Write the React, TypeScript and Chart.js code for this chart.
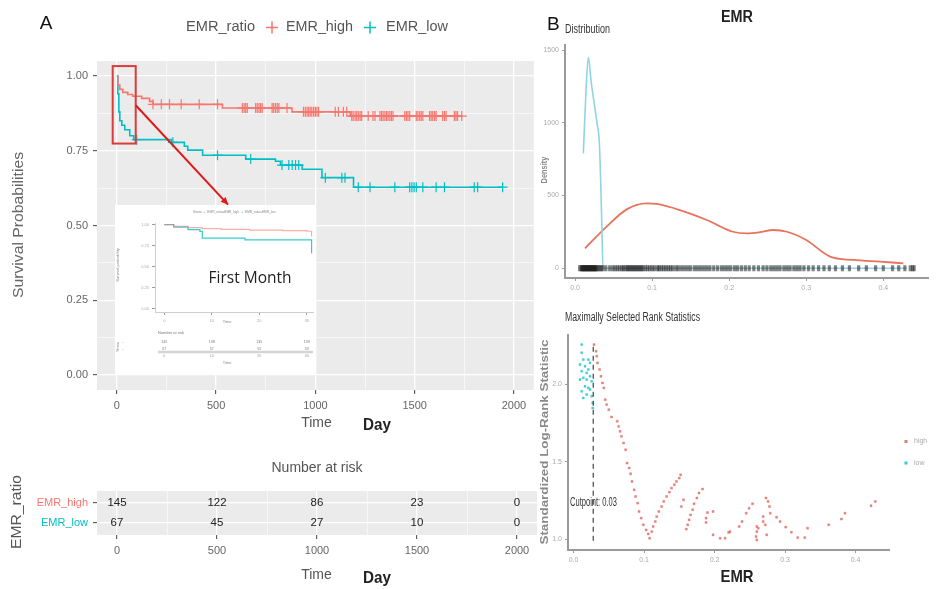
import React, { useEffect, useRef } from "react";
import { Chart, registerables } from "chart.js";

Chart.register(...registerables);

// ======================= DATA =======================
// Panel A – Kaplan-Meier curves (time in days -> survival probability)
const HIGH_TIME = [0, 5, 15, 30, 55, 80, 125, 165, 182, 532, 882, 1175, 1737];
const HIGH_SURV = [1.0, 0.97, 0.955, 0.945, 0.938, 0.932, 0.925, 0.915, 0.905, 0.893, 0.88, 0.866, 0.866];
const HIGH_CENSOR = [
  182, 224, 265, 324, 415, 507, 632, 641, 649, 657, 699, 707, 716, 724, 732, 782, 790, 799, 808, 816, 857,
  940, 949, 958, 966, 974, 982, 991, 1000, 1008, 1016, 1100, 1116, 1141, 1158, 1183, 1190, 1200, 1208, 1216,
  1225, 1233, 1266, 1290, 1300, 1325, 1333, 1341, 1350, 1358, 1366, 1375, 1383, 1391, 1450, 1458, 1466, 1475,
  1508, 1516, 1525, 1533, 1541, 1575, 1583, 1591, 1600, 1608, 1641, 1650, 1658, 1700, 1708, 1716, 1737,
];
const LOW_TIME = [0, 5, 10, 15, 25, 40, 65, 85, 275, 340, 357, 432, 649, 799, 824, 933, 1033, 1192, 1943];
const LOW_SURV = [1.0, 0.94, 0.88, 0.85, 0.835, 0.82, 0.8, 0.787, 0.778, 0.765, 0.752, 0.735, 0.722, 0.715, 0.702, 0.688, 0.66, 0.628, 0.628];
const LOW_CENSOR = [
  100, 282, 507, 674, 832, 866, 883, 900, 916, 1050, 1133, 1149, 1216, 1275, 1400, 1475, 1486, 1497, 1508,
  1541, 1608, 1650, 1800, 1817, 1943,
];
const GROUPS = ["EMR_high", "EMR_low"];
const KM_X_GRID = [0, 250, 500, 750, 1000, 1250, 1500, 1750, 2000];
const KM_Y_GRID = [0, 0.125, 0.25, 0.375, 0.5, 0.625, 0.75, 0.875, 1.0];

// Number at risk table
const RISK_TIMES = [0, 500, 1000, 1500, 2000];
const RISK_HIGH = [145, 122, 86, 23, 0];
const RISK_LOW = [67, 45, 27, 10, 0];

// Inset – first month
const INSET_HIGH_T = [0, 2, 5, 8, 12, 18, 25, 30, 31];
const INSET_HIGH_S = [1.0, 0.98, 0.965, 0.952, 0.945, 0.935, 0.928, 0.922, 0.86];
const INSET_LOW_T = [0, 2, 5, 7.5, 8, 17, 31];
const INSET_LOW_S = [1.0, 0.97, 0.94, 0.92, 0.84, 0.82, 0.66];
const INSET_X_TICKS = [0, 10, 20, 30];
const INSET_Y_TICKS = [0, 0.25, 0.5, 0.75, 1.0];
const INSET_RISK_HIGH = [145, 138, 135, 133];
const INSET_RISK_LOW = [67, 57, 55, 53];

// Panel B – density of EMR
const DENS_LOW_X = [0.0108, 0.0145, 0.0173, 0.021, 0.025, 0.0285, 0.0316, 0.0335, 0.035, 0.0363, 0.43];
const DENS_LOW_Y = [790, 1250, 1450, 1280, 1130, 1000, 860, 560, 250, 0, 0];
const DENS_HIGH_X = [0.013, 0.041, 0.067, 0.093, 0.106, 0.136, 0.171, 0.205, 0.223, 0.24, 0.257, 0.275, 0.3, 0.331, 0.361, 0.396, 0.426];
const DENS_HIGH_Y = [137, 286, 405, 446, 442, 400, 332, 251, 240, 248, 263, 251, 194, 80, 57, 45, 34];
const RUG_EMR = [
  0.006, 0.008, 0.009, 0.01, 0.011, 0.012, 0.013, 0.014, 0.015, 0.016, 0.017, 0.018, 0.019, 0.02, 0.021, 0.022,
  0.023, 0.024, 0.025, 0.026, 0.027, 0.028, 0.03, 0.032, 0.034, 0.036, 0.04, 0.045, 0.049, 0.052, 0.055, 0.058,
  0.061, 0.063, 0.066, 0.068, 0.07, 0.072, 0.074, 0.076, 0.078, 0.08, 0.082, 0.084, 0.086, 0.088, 0.091, 0.094,
  0.097, 0.1, 0.103, 0.107, 0.109, 0.112, 0.115, 0.118, 0.121, 0.124, 0.127, 0.131, 0.134, 0.138, 0.142, 0.146,
  0.15, 0.155, 0.159, 0.163, 0.167, 0.171, 0.175, 0.18, 0.185, 0.19, 0.194, 0.198, 0.202, 0.207, 0.211, 0.216,
  0.221, 0.226, 0.232, 0.238, 0.244, 0.249, 0.254, 0.258, 0.262, 0.266, 0.271, 0.275, 0.279, 0.284, 0.288,
  0.292, 0.297, 0.303, 0.309, 0.316, 0.323, 0.33, 0.338, 0.347, 0.356, 0.368, 0.378, 0.39, 0.4, 0.412, 0.42,
  0.428, 0.435, 0.438, 0.44,
];
const DENS_X_TICKS = [0, 0.1, 0.2, 0.3, 0.4];
const DENS_Y_TICKS = [0, 500, 1000, 1500];

// Panel B – maximally selected rank statistics
const MS_LOW_X = [0.0116, 0.0116, 0.0139, 0.0092, 0.0163, 0.0116, 0.0187, 0.021, 0.0234, 0.0139, 0.0092, 0.0187, 0.0258, 0.0163, 0.021, 0.0116, 0.0139, 0.0187, 0.0258, 0.0234, 0.0272, 0.0272, 0.021, 0.0234];
const MS_LOW_Y = [2.258, 2.205, 2.161, 2.129, 2.118, 2.086, 2.075, 2.161, 2.14, 2.043, 2.032, 2.032, 2.021, 1.988, 1.978, 1.956, 1.913, 1.935, 1.924, 1.967, 1.881, 1.848, 2.097, 2.053];
const MS_HIGH_X = [
  0.029, 0.032, 0.033, 0.034, 0.037, 0.039, 0.041, 0.043, 0.045, 0.047, 0.05, 0.054, 0.062, 0.064, 0.066, 0.068,
  0.071, 0.074, 0.076, 0.079, 0.081, 0.083, 0.086, 0.088, 0.091, 0.093, 0.096, 0.099, 0.103, 0.106, 0.108, 0.111,
  0.113, 0.116, 0.118, 0.121, 0.125, 0.128, 0.132, 0.136, 0.139, 0.143, 0.146, 0.15, 0.152, 0.153, 0.156, 0.16,
  0.162, 0.164, 0.166, 0.169, 0.171, 0.175, 0.178, 0.183, 0.188, 0.188, 0.19, 0.198, 0.198, 0.208, 0.215, 0.22,
  0.222, 0.235, 0.239, 0.245, 0.249, 0.254, 0.26, 0.26, 0.259, 0.26, 0.262, 0.269, 0.269, 0.272, 0.274, 0.273,
  0.276, 0.278, 0.279, 0.288, 0.293, 0.301, 0.309, 0.318, 0.328, 0.332, 0.362, 0.38, 0.385, 0.422, 0.428,
];
const MS_HIGH_Y = [
  2.258, 2.215, 2.183, 2.14, 2.097, 2.053, 2.01, 1.978, 1.902, 1.87, 1.837, 1.79, 1.762, 1.729, 1.697, 1.665,
  1.622, 1.578, 1.492, 1.46, 1.423, 1.373, 1.319, 1.276, 1.233, 1.179, 1.136, 1.093, 1.06, 1.034, 1.006, 1.049,
  1.082, 1.114, 1.146, 1.179, 1.211, 1.244, 1.276, 1.304, 1.33, 1.352, 1.373, 1.395, 1.416, 1.211, 1.255, 1.065,
  1.093, 1.125, 1.157, 1.19, 1.229, 1.266, 1.298, 1.324, 1.136, 1.108, 1.172, 1.179, 1.028, 1.006, 1.006, 1.043,
  1.049, 1.082, 1.114, 1.168, 1.2, 1.229, 1.082, 1.049, 1.017, 0.995, 1.071, 1.146, 1.114, 1.093, 1.028, 1.266,
  1.244, 1.211, 1.168, 1.142, 1.114, 1.078, 1.045, 1.01, 1.01, 1.071, 1.093, 1.13, 1.168, 1.216, 1.244,
];
const CUTPOINT = 0.028;
const MS_X_TICKS = [0, 0.1, 0.2, 0.3, 0.4];
const MS_Y_TICKS = [1.0, 1.5, 2.0];

// ======================= STYLE / HELPERS =======================
const FONT = '"Liberation Sans", Arial, sans-serif';
const RED = "#F8766D";
const CYAN = "#00BFC4";

type TxtOpt = {
  size?: number;
  bold?: boolean;
  color?: string;
  align?: CanvasTextAlign;
  family?: string;
  width?: number;
  rot?: number;
};

function txt(ctx: CanvasRenderingContext2D, s: string, x: number, y: number, o: TxtOpt = {}) {
  ctx.save();
  ctx.font = `${o.bold ? "bold " : ""}${o.size ?? 12}px ${o.family ?? FONT}`;
  ctx.fillStyle = o.color ?? "#333";
  ctx.textBaseline = "middle";
  ctx.textAlign = o.align ?? "center";
  ctx.translate(x, y);
  if (o.rot) ctx.rotate(o.rot);
  if (o.width) {
    const w = ctx.measureText(s).width;
    if (w > 0) ctx.scale(o.width / w, 1);
  }
  ctx.fillText(s, 0, 0);
  ctx.restore();
}

function stepAt(times: number[], surv: number[], t: number) {
  let s = surv[0];
  for (let i = 0; i < times.length; i++) if (times[i] <= t) s = surv[i];
  return s;
}

const pts = (xs: number[], ys: number[]) => xs.map((x, i) => ({ x, y: ys[i] }));
const majorX = (v: number) => Math.abs(v % 500) < 1e-9;
const majorY = (v: number) => Math.abs(v * 4 - Math.round(v * 4)) < 1e-9;

const panelBg = (color: string) => ({
  id: "panelBg",
  beforeDraw(chart: any) {
    const { ctx, chartArea: a } = chart;
    ctx.save();
    ctx.fillStyle = color;
    ctx.fillRect(a.left, a.top, a.right - a.left, a.bottom - a.top);
    ctx.restore();
  },
});

function ggX(height: number) {
  return {
    type: "linear",
    min: -100,
    max: 2100,
    afterBuildTicks: (s: any) => {
      s.ticks = KM_X_GRID.map((v) => ({ value: v }));
    },
    afterFit: (s: any) => {
      s.height = height;
    },
    border: { display: false },
    grid: {
      color: "#FFFFFF",
      lineWidth: (c: any) => (c.tick && majorX(c.tick.value) ? 1.3 : 0.6),
      tickColor: (c: any) => (c.tick && majorX(c.tick.value) ? "#444" : "rgba(0,0,0,0)"),
      tickLength: 4,
      tickWidth: 1,
    },
    ticks: {
      autoSkip: false,
      maxRotation: 0,
      minRotation: 0,
      padding: 5,
      color: "#666",
      font: { family: FONT, size: 11 },
      callback: (v: any) => (majorX(Number(v)) ? String(v) : ""),
    },
  };
}

function classicAxis(min: number, max: number, ticks: number[], size: number, isX: boolean, fmt: (v: number) => string, fontSize = 7) {
  return {
    type: "linear",
    min,
    max,
    afterBuildTicks: (s: any) => {
      s.ticks = ticks.map((v) => ({ value: v }));
    },
    afterFit: (s: any) => {
      if (isX) s.height = size;
      else s.width = size;
    },
    border: { display: true, color: "#9a9a9a", width: 2 },
    grid: { display: true, drawOnChartArea: false, tickLength: 3, tickColor: "#9a9a9a", tickWidth: 1 },
    ticks: {
      autoSkip: false,
      maxRotation: 0,
      minRotation: 0,
      padding: 3,
      color: "#aaaaaa",
      font: { family: FONT, size: fontSize },
      callback: (v: any) => fmt(Number(v)),
    },
  };
}

// ======================= CHART CONFIGS =======================
function cfgKM(): any {
  return {
    type: "line",
    data: {
      datasets: [
        { data: pts(HIGH_TIME, HIGH_SURV), stepped: "before", borderColor: RED, borderWidth: 1.6, pointRadius: 0 },
        { data: pts(LOW_TIME, LOW_SURV), stepped: "before", borderColor: CYAN, borderWidth: 1.6, pointRadius: 0 },
        {
          data: HIGH_CENSOR.map((t) => ({ x: t, y: stepAt(HIGH_TIME, HIGH_SURV, t) })),
          showLine: false,
          pointStyle: "cross",
          pointRadius: 5,
          pointBorderColor: RED,
          pointBackgroundColor: RED,
          pointBorderWidth: 1.2,
        },
        {
          data: LOW_CENSOR.map((t) => ({ x: t, y: stepAt(LOW_TIME, LOW_SURV, t) })),
          showLine: false,
          pointStyle: "cross",
          pointRadius: 5,
          pointBorderColor: CYAN,
          pointBackgroundColor: CYAN,
          pointBorderWidth: 1.2,
        },
      ],
    },
    options: {
      animation: false,
      responsive: false,
      layout: { padding: { left: 0, right: 3, top: 61, bottom: 5 } },
      plugins: { legend: { display: false }, tooltip: { enabled: false } },
      scales: {
        x: ggX(45),
        y: {
          type: "linear",
          min: -0.05,
          max: 1.05,
          afterBuildTicks: (s: any) => {
            s.ticks = KM_Y_GRID.map((v) => ({ value: v }));
          },
          afterFit: (s: any) => {
            s.width = 97;
          },
          border: { display: false },
          grid: {
            color: "#FFFFFF",
            lineWidth: (c: any) => (c.tick && majorY(c.tick.value) ? 1.3 : 0.6),
            tickColor: (c: any) => (c.tick && majorY(c.tick.value) ? "#444" : "rgba(0,0,0,0)"),
            tickLength: 4,
            tickWidth: 1,
          },
          ticks: {
            autoSkip: false,
            padding: 5,
            color: "#666",
            font: { family: FONT, size: 11 },
            callback: (v: any) => (majorY(Number(v)) ? Number(v).toFixed(2) : ""),
          },
        },
      },
    },
    plugins: [
      panelBg("#EBEBEB"),
      {
        id: "kmDecor",
        afterDatasetsDraw(chart: any) {
          const { ctx } = chart;
          const xs = chart.scales.x;
          const ys = chart.scales.y;
          const x1 = xs.getPixelForValue(-21);
          const x2 = xs.getPixelForValue(95);
          const y1 = ys.getPixelForValue(1.033);
          const y2 = ys.getPixelForValue(0.774);
          ctx.save();
          ctx.strokeStyle = "#DA3B3B";
          ctx.lineWidth = 2;
          ctx.strokeRect(x1, y1, x2 - x1, y2 - y1);
          const ax = xs.getPixelForValue(95);
          const ay = ys.getPixelForValue(0.902);
          const bx = xs.getPixelForValue(560);
          const by = ys.getPixelForValue(0.57);
          ctx.strokeStyle = "#E01818";
          ctx.fillStyle = "#E01818";
          ctx.lineWidth = 2;
          ctx.beginPath();
          ctx.moveTo(ax, ay);
          ctx.lineTo(bx, by);
          ctx.stroke();
          const ang = Math.atan2(by - ay, bx - ax);
          const L = 8;
          ctx.beginPath();
          ctx.moveTo(bx, by);
          ctx.lineTo(bx - L * Math.cos(ang - 0.45), by - L * Math.sin(ang - 0.45));
          ctx.lineTo(bx - L * Math.cos(ang + 0.45), by - L * Math.sin(ang + 0.45));
          ctx.closePath();
          ctx.fill();
          ctx.restore();
        },
        afterDraw(chart: any) {
          const { ctx } = chart;
          txt(ctx, "A", 46, 24, { size: 19, color: "#111" });
          txt(ctx, "EMR_ratio", 186, 27.5, { size: 14, color: "#555", align: "left", width: 69 });
          const plus = (x: number, c: string) => {
            ctx.save();
            ctx.strokeStyle = c;
            ctx.lineWidth = 1.5;
            ctx.beginPath();
            ctx.moveTo(x - 6, 27.5);
            ctx.lineTo(x + 6, 27.5);
            ctx.moveTo(x, 21.5);
            ctx.lineTo(x, 33.5);
            ctx.stroke();
            ctx.restore();
          };
          plus(272, RED);
          txt(ctx, "EMR_high", 286, 27.5, { size: 14, color: "#555", align: "left", width: 67 });
          plus(370, CYAN);
          txt(ctx, "EMR_low", 386, 27.5, { size: 14, color: "#555", align: "left", width: 62 });
          txt(ctx, "Survival Probabilities", 19, 225, { size: 14, color: "#666", rot: -Math.PI / 2, width: 146 });
          txt(ctx, "Time", 316.5, 423, { size: 14, color: "#555" });
          txt(ctx, "Day", 377, 425, { size: 17, bold: true, color: "#222", width: 28 });
        },
      },
    ],
  };
}

function cfgRisk(): any {
  return {
    type: "line",
    data: {
      datasets: [
        { data: RISK_TIMES.map((t) => ({ x: t, y: 1 })), showLine: false, pointRadius: 0 },
        { data: RISK_TIMES.map((t) => ({ x: t, y: 2 })), showLine: false, pointRadius: 0 },
      ],
    },
    options: {
      animation: false,
      responsive: false,
      layout: { padding: { left: 0, right: 3, top: 51, bottom: 28 } },
      plugins: { legend: { display: false }, tooltip: { enabled: false } },
      scales: {
        x: ggX(26),
        y: {
          type: "linear",
          min: 0.4,
          max: 2.6,
          reverse: true,
          afterBuildTicks: (s: any) => {
            s.ticks = [1, 2].map((v) => ({ value: v }));
          },
          afterFit: (s: any) => {
            s.width = 97;
          },
          border: { display: false },
          grid: { color: "#FFFFFF", lineWidth: 1.3, tickColor: "#444", tickLength: 4, tickWidth: 1 },
          ticks: {
            autoSkip: false,
            padding: 5,
            font: { family: FONT, size: 11 },
            color: (c: any) => (c.index === 0 ? RED : CYAN),
            callback: (v: any) => GROUPS[Math.round(Number(v)) - 1],
          },
        },
      },
    },
    plugins: [
      panelBg("#EBEBEB"),
      {
        id: "riskText",
        afterDatasetsDraw(chart: any) {
          const { ctx } = chart;
          const counts = [RISK_HIGH, RISK_LOW];
          counts.forEach((row, i) => {
            const meta = chart.getDatasetMeta(i);
            meta.data.forEach((el: any, j: number) => {
              txt(ctx, String(row[j]), el.x, el.y, { size: 11.5, color: "#222" });
            });
          });
        },
        afterDraw(chart: any) {
          const { ctx } = chart;
          txt(ctx, "Number at risk", 317, 28, { size: 14, color: "#555" });
          txt(ctx, "EMR_ratio", 17, 72, { size: 14, color: "#555", rot: -Math.PI / 2, width: 74 });
          txt(ctx, "Time", 316.5, 135, { size: 14, color: "#555" });
          txt(ctx, "Day", 377, 138, { size: 17, bold: true, color: "#222", width: 28 });
        },
      },
    ],
  };
}

function cfgInset(): any {
  return {
    type: "line",
    data: {
      datasets: [
        { data: pts(INSET_HIGH_T, INSET_HIGH_S), stepped: "before", borderColor: "rgba(248,118,109,0.6)", borderWidth: 1.2, pointRadius: 0 },
        { data: pts(INSET_LOW_T, INSET_LOW_S), stepped: "before", borderColor: "rgba(0,191,196,0.8)", borderWidth: 1.2, pointRadius: 0 },
      ],
    },
    options: {
      animation: false,
      responsive: false,
      layout: { padding: { left: 0, right: 3, top: 18, bottom: 49 } },
      plugins: { legend: { display: false }, tooltip: { enabled: false } },
      scales: {
        x: {
          ...classicAxis(-1.95, 31.3, INSET_X_TICKS, 14, true, (v) => String(v), 4),
          border: { display: true, color: "#cfcfcf", width: 1 },
        },
        y: {
          ...classicAxis(-0.04, 1.02, INSET_Y_TICKS, 40, false, (v) => v.toFixed(2), 4),
          border: { display: true, color: "#cfcfcf", width: 1 },
        },
      },
    },
    plugins: [
      {
        id: "insetBg",
        beforeDraw(chart: any) {
          const { ctx } = chart;
          ctx.save();
          ctx.fillStyle = "#FFFFFF";
          ctx.fillRect(0, 0, chart.width, chart.height);
          ctx.restore();
        },
        afterDraw(chart: any) {
          const { ctx } = chart;
          const xs = chart.scales.x;
          const parts: [string, string][] = [
            ["Strata", "#888"],
            ["+", RED],
            ["EMR_ratio=EMR_high", "#888"],
            ["+", CYAN],
            ["EMR_ratio=EMR_low", "#888"],
          ];
          ctx.save();
          ctx.font = `3.2px ${FONT}`;
          let x = 78;
          parts.forEach(([s, c]) => {
            ctx.fillStyle = c;
            ctx.textBaseline = "middle";
            ctx.textAlign = "left";
            ctx.fillText(s, x, 7);
            x += ctx.measureText(s).width + 2;
          });
          ctx.restore();
          txt(ctx, "Survival probability", 3, 60, { size: 4, color: "#888", rot: -Math.PI / 2 });
          txt(ctx, "Time", 112, 117, { size: 4, color: "#888" });
          txt(ctx, "First Month", 135, 73, { size: 16, family: '"Open Sans", "Noto Sans", sans-serif', color: "#222", width: 83 });
          txt(ctx, "Number at risk", 43, 128, { size: 4, color: "#777", align: "left" });
          INSET_X_TICKS.forEach((t, j) => {
            const px = xs.getPixelForValue(t);
            txt(ctx, String(INSET_RISK_HIGH[j]), px, 137, { size: 3.6, color: "#777" });
            txt(ctx, String(INSET_RISK_LOW[j]), px, 143.5, { size: 3.6, color: "#777" });
            txt(ctx, String(t), px, 151, { size: 3.6, color: "#999" });
          });
          ctx.save();
          ctx.strokeStyle = "#d4d4d4";
          ctx.lineWidth = 2.5;
          ctx.beginPath();
          ctx.moveTo(43, 147);
          ctx.lineTo(198, 147);
          ctx.stroke();
          ctx.restore();
          txt(ctx, "Time", 112, 158, { size: 4, color: "#888" });
          txt(ctx, "Strata", 3, 142, { size: 3.6, color: "#888", rot: -Math.PI / 2 });
          txt(ctx, "-", 8, 137, { size: 4, color: "#aaa" });
          txt(ctx, "-", 8, 143.5, { size: 4, color: "#aaa" });
        },
      },
    ],
  };
}

function cfgDensity(): any {
  return {
    type: "line",
    data: {
      datasets: [
        {
          data: RUG_EMR.map((v) => ({ x: v, y: 0 })),
          showLine: false,
          pointStyle: "line",
          pointRadius: 3,
          pointRotation: 90,
          pointBorderColor: "rgba(25,25,25,0.55)",
          pointBorderWidth: 3.2,
        },
        {
          data: pts(DENS_LOW_X, DENS_LOW_Y),
          borderColor: "#8FD5E2",
          borderWidth: 1.6,
          pointRadius: 0,
          cubicInterpolationMode: "monotone",
        },
        {
          data: pts(DENS_HIGH_X, DENS_HIGH_Y),
          borderColor: "#E8725C",
          borderWidth: 1.8,
          pointRadius: 0,
          cubicInterpolationMode: "monotone",
        },
      ],
    },
    options: {
      animation: false,
      responsive: false,
      layout: { padding: { left: 0, right: 8, top: 45, bottom: 0 } },
      plugins: { legend: { display: false }, tooltip: { enabled: false } },
      scales: {
        x: classicAxis(-0.013, 0.458, DENS_X_TICKS, 22, true, (v) => v.toFixed(1)),
        y: classicAxis(-67, 1535, DENS_Y_TICKS, 25, false, (v) => String(v)),
      },
    },
    plugins: [
      {
        id: "densText",
        afterDraw(chart: any) {
          const { ctx } = chart;
          txt(ctx, "B", 7, 25, { size: 19, color: "#111", align: "left" });
          txt(ctx, "Distribution", 25, 30, { size: 12, color: "#333", align: "left", width: 45 });
          txt(ctx, "EMR", 197, 18, { size: 16, bold: true, color: "#222", width: 32 });
          txt(ctx, "Density", 5, 170, { size: 9, bold: true, color: "#8a8a8a", rot: -Math.PI / 2, width: 27 });
        },
      },
    ],
  };
}

function cfgMaxstat(): any {
  return {
    type: "line",
    data: {
      datasets: [
        {
          data: [
            { x: CUTPOINT, y: 0.99 },
            { x: CUTPOINT, y: 2.26 },
          ],
          borderColor: "#444",
          borderWidth: 1.2,
          borderDash: [5, 4],
          pointRadius: 0,
        },
        {
          data: pts(MS_LOW_X, MS_LOW_Y),
          showLine: false,
          pointStyle: "rect",
          pointRadius: 1.4,
          pointBackgroundColor: "rgba(0,191,196,0.7)",
          pointBorderColor: "rgba(0,191,196,0.7)",
          pointBorderWidth: 0.5,
        },
        {
          data: pts(MS_HIGH_X, MS_HIGH_Y),
          showLine: false,
          pointStyle: "rect",
          pointRadius: 1.4,
          pointBackgroundColor: "rgba(220,90,80,0.7)",
          pointBorderColor: "rgba(220,90,80,0.7)",
          pointBorderWidth: 0.5,
        },
      ],
    },
    options: {
      animation: false,
      responsive: false,
      layout: { padding: { left: 0, right: 47, top: 35, bottom: 17 } },
      plugins: { legend: { display: false }, tooltip: { enabled: false } },
      scales: {
        x: classicAxis(-0.0078, 0.4475, MS_X_TICKS, 22, true, (v) => v.toFixed(1)),
        y: classicAxis(0.93, 2.32, MS_Y_TICKS, 28, false, (v) => v.toFixed(1)),
      },
    },
    plugins: [
      {
        id: "msText",
        afterDraw(chart: any) {
          const { ctx } = chart;
          txt(ctx, "Maximally Selected Rank Statistics", 25, 18, { size: 12, color: "#333", align: "left", width: 135 });
          txt(ctx, "Cutpoint: 0.03", 30, 203, { size: 12, color: "#333", align: "left", width: 47 });
          txt(ctx, "Standardized Log-Rank Statistic", 5, 142, { size: 11, bold: true, color: "#8a8a8a", rot: -Math.PI / 2, width: 205 });
          txt(ctx, "EMR", 197, 277, { size: 17, bold: true, color: "#222", width: 33 });
          ctx.save();
          ctx.fillStyle = "rgba(220,90,80,0.8)";
          ctx.fillRect(364.5, 140, 3, 3);
          ctx.fillStyle = "rgba(0,191,196,0.8)";
          ctx.fillRect(364.5, 161.5, 3, 3);
          ctx.restore();
          txt(ctx, "high", 374, 141.5, { size: 7, color: "#aaa", align: "left" });
          txt(ctx, "low", 374, 163, { size: 7, color: "#aaa", align: "left" });
        },
      },
    ],
  };
}

// ======================= COMPONENT =======================
export default function App() {
  const kmRef = useRef<HTMLCanvasElement>(null);
  const insetRef = useRef<HTMLCanvasElement>(null);
  const riskRef = useRef<HTMLCanvasElement>(null);
  const densRef = useRef<HTMLCanvasElement>(null);
  const msRef = useRef<HTMLCanvasElement>(null);

  useEffect(() => {
    const charts: Chart[] = [];
    if (kmRef.current) charts.push(new Chart(kmRef.current, cfgKM()));
    if (insetRef.current) charts.push(new Chart(insetRef.current, cfgInset()));
    if (riskRef.current) charts.push(new Chart(riskRef.current, cfgRisk()));
    if (densRef.current) charts.push(new Chart(densRef.current, cfgDensity()));
    if (msRef.current) charts.push(new Chart(msRef.current, cfgMaxstat()));
    return () => charts.forEach((c) => c.destroy());
  }, []);

  const pos = (left: number, top: number, width: number, height: number): React.CSSProperties => ({
    position: "absolute",
    left,
    top,
    width,
    height,
  });

  return (
    <div style={{ position: "fixed", left: 0, top: 0, width: 936, height: 589, background: "#fff", overflow: "hidden" }}>
      <canvas ref={kmRef} width={540} height={440} style={pos(0, 0, 540, 440)} />
      <canvas ref={insetRef} width={201} height={170} style={pos(115, 205, 201, 170)} />
      <canvas ref={riskRef} width={540} height={149} style={pos(0, 440, 540, 149)} />
      <canvas ref={densRef} width={396} height={300} style={pos(540, 0, 396, 300)} />
      <canvas ref={msRef} width={396} height={289} style={pos(540, 300, 396, 289)} />
    </div>
  );
}
